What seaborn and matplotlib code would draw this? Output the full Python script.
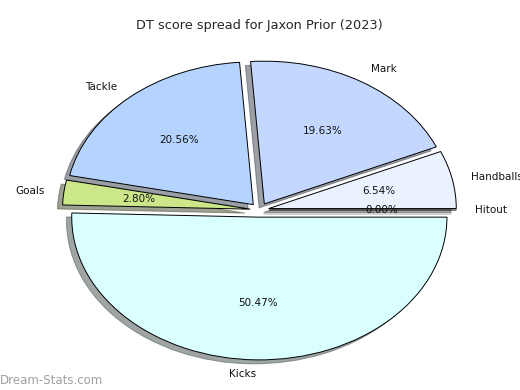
import matplotlib
matplotlib.use("Agg")
import matplotlib.pyplot as plt
import seaborn as sns

# DT score points per stat category (share of 107 total)
categories = ["Hitout", "Handballs", "Mark", "Tackle", "Goals", "Kicks"]
points = [0, 7, 21, 22, 3, 54]
slice_colors = ["#f2f7ff", "#eaf2ff", "#c4d8ff", "#b4d4ff", "#cbe78a", "#d9ffff"]

sns.set_style("white")
plt.rcParams["font.family"] = ["DejaVu Sans"]

fig = plt.figure(figsize=(5.2, 3.9), dpi=100)
ax = fig.add_axes([0.048, 0.004, 0.902, 0.915])

palette = sns.color_palette(slice_colors)
wedges, texts, autotexts = ax.pie(
    points,
    labels=categories,
    colors=palette,
    explode=[0.05] * len(points),
    autopct="%.2f%%",
    shadow=True,
    startangle=0,
    wedgeprops={"edgecolor": "black", "linewidth": 0.7},
    textprops={"fontsize": 7.5, "color": "#111111"},
)
ax.set_aspect("auto")
ax.set_xlim(-1.25, 1.25)
ax.set_ylim(-1.25, 1.25)
ax.set_title("DT score spread for Jaxon Prior (2023)", fontsize=9.3, pad=1.5)

fig.text(0.0, 0.025, "Dream-Stats.com", fontsize=8.5, color="#a0a0a0",
         ha="left", va="center")

fig.savefig("out.png", dpi=100)
